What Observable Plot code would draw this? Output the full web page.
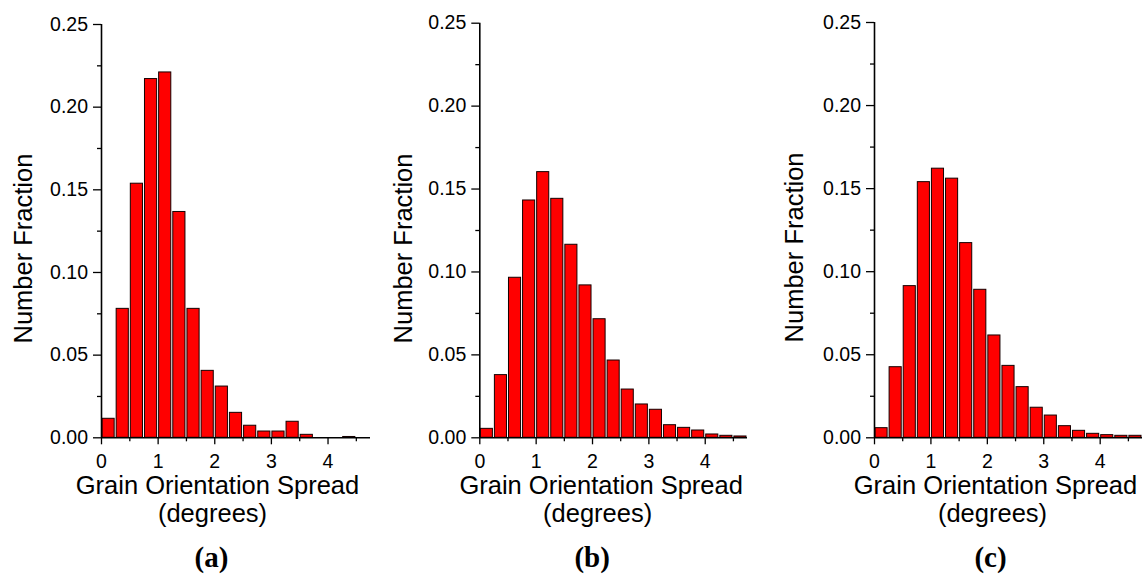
<!DOCTYPE html>
<html><head><meta charset="utf-8">
<script src="https://cdn.jsdelivr.net/npm/d3@7"></script>
<script src="https://cdn.jsdelivr.net/npm/@observablehq/plot@0.6"></script>
<style>
body{margin:0;background:#fff;}
#wrap{position:relative;width:1142px;height:575px;overflow:hidden;background:#fff;}
#wrap svg{position:absolute;top:0;overflow:visible;}
</style></head><body><div id="wrap"></div>
<script>
// Bin edges (degrees)
const binStart = [0, 0.25, 0.5, 0.75, 1.0, 1.25, 1.5, 1.75, 2.0, 2.25, 2.5, 2.75, 3.0, 3.25, 3.5, 3.75, 4.0, 4.25, 4.5];
const binEnd   = [0.25, 0.5, 0.75, 1.0, 1.25, 1.5, 1.75, 2.0, 2.25, 2.5, 2.75, 3.0, 3.25, 3.5, 3.75, 4.0, 4.25, 4.5, 4.75];
// Number fraction per bin
const fractionA = [0.0115, 0.078, 0.1537, 0.217, 0.221, 0.1366, 0.078, 0.0405, 0.031, 0.0151, 0.0073, 0.0038, 0.0038, 0.0097, 0.0018, 0, 0, 0.0005, 0];
const fractionB = [0.0054, 0.0378, 0.0965, 0.1431, 0.1602, 0.1441, 0.1164, 0.0919, 0.0715, 0.0466, 0.0291, 0.0201, 0.0169, 0.0076, 0.006, 0.0044, 0.002, 0.0012, 0.0008];
const fractionC = [0.0058, 0.0425, 0.0913, 0.1539, 0.162, 0.156, 0.1172, 0.0891, 0.0616, 0.0433, 0.0305, 0.0181, 0.0134, 0.007, 0.0042, 0.0024, 0.0016, 0.0012, 0.0012];
// Ticks and labels
const yTicks = [0, 0.05, 0.10, 0.15, 0.20, 0.25];
const yMinorTicks = [0.025, 0.075, 0.125, 0.175, 0.225];
const xTicks = [0, 1, 2, 3, 4];
const xMinorTicks = [0.5, 1.5, 2.5, 3.5, 4.5];
const panelLabels = ["(a)", "(b)", "(c)"];
const xTitle = "Grain Orientation Spread";
const xUnits = "(degrees)";
const yTitle = "Number Fraction";

const series = [fractionA, fractionB, fractionC];

// Layout for each panel (pixels)
const layouts = [
  {left: 0,   width: 380, mL: 101,  mR: 10, mT: 24,   yLabDx: -69.3, yLabDy: 17.4, t1: -18.5, t2: -23.5, t3: -24.5},
  {left: 380, width: 380, mL: 99.3, mR: 13, mT: 22.7, yLabDx: -67.6, yLabDy: 18,   t1: -12.5, t2: -16,   t3: -21.5},
  {left: 760, width: 382, mL: 114,  mR: 0,  mT: 22,   yLabDx: -71.3, yLabDy: 17.3, t1: -13,   t2: -16,   t3: -18}
];

const font = "'Liberation Sans', Arial, Helvetica, sans-serif";
const wrap = document.getElementById("wrap");

layouts.forEach((L, k) => {
  const data = binStart.map((b, i) => ({x1: b, x2: binEnd[i], v: series[k][i]}));
  const H = 575, bottomY = 437.3;
  const chart = Plot.plot({
    width: L.width,
    height: H,
    marginLeft: L.mL,
    marginRight: L.mR,
    marginTop: L.mT,
    marginBottom: H - bottomY,
    style: {fontFamily: font, color: "#000", background: "transparent", overflow: "visible"},
    x: {domain: [0, 4.75], axis: null},
    y: {domain: [0, 0.25], axis: null},
    marks: [
      Plot.rectY(data, {x1: "x1", x2: "x2", y: "v", fill: "#ff0000", stroke: "#150000", strokeWidth: 1, insetLeft: 1, insetRight: 1}),
      Plot.axisY({ticks: yTicks, tickSize: 8, tickPadding: 5.5, tickFormat: d3.format(".2f"), label: null, fontSize: 19.5, strokeWidth: 1.3}),
      Plot.axisY({ticks: yMinorTicks, tickSize: 4, tickFormat: () => "", label: null, strokeWidth: 1.3}),
      Plot.axisX({ticks: xTicks, tickSize: 7, tickPadding: 9, tickFormat: d3.format("d"), label: null, fontSize: 19.5, strokeWidth: 1.3}),
      Plot.axisX({ticks: xMinorTicks, tickSize: 4, tickFormat: () => "", label: null, strokeWidth: 1.3}),
      Plot.ruleX([0], {stroke: "#000", strokeWidth: 1.6}),
      Plot.ruleY([0], {stroke: "#000", strokeWidth: 1.6}),
      Plot.text([yTitle], {frameAnchor: "left", rotate: -90, lineAnchor: "bottom", textAnchor: "middle", dx: L.yLabDx, dy: L.yLabDy, fontSize: 25.5, fill: "#000"}),
      Plot.text([xTitle], {frameAnchor: "bottom", lineAnchor: "bottom", textAnchor: "middle", dx: L.t1, dy: 56, fontSize: 25.5, fill: "#000"}),
      Plot.text([xUnits], {frameAnchor: "bottom", lineAnchor: "bottom", textAnchor: "middle", dx: L.t2, dy: 84.4, fontSize: 25.5, fill: "#000"}),
      Plot.text([panelLabels[k]], {frameAnchor: "bottom", lineAnchor: "bottom", textAnchor: "middle", dx: L.t3, dy: 128.7, fontSize: 29, fontWeight: "bold", fontFamily: "'Liberation Serif', 'Times New Roman', serif", fill: "#000"})
    ]
  });
  chart.style.left = L.left + "px";
  wrap.appendChild(chart);
});
</script>
</body></html>
